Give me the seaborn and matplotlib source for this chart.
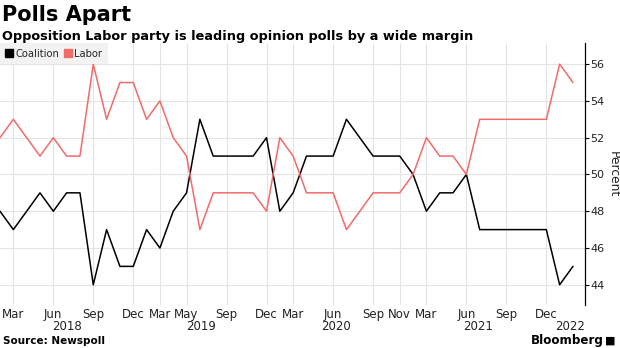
import matplotlib
matplotlib.use("Agg")
import matplotlib.pyplot as plt
from matplotlib.lines import Line2D
from matplotlib.transforms import blended_transform_factory
import seaborn as sns
import pandas as pd

# Newspoll two-party-preferred results, one entry per poll
coalition = [48, 47, 48, 49, 48, 49, 49, 44, 47, 45, 45, 47, 46, 48, 49,
             53, 51, 51, 51, 51, 52, 48, 49, 51, 51, 51, 53, 52, 51, 51,
             51, 50, 48, 49, 49, 50, 47, 47, 47, 47, 47, 47, 44, 45]
labor = [52, 53, 52, 51, 52, 51, 51, 56, 53, 55, 55, 53, 54, 52, 51,
         47, 49, 49, 49, 49, 48, 52, 51, 49, 49, 49, 47, 48, 49, 49,
         49, 50, 52, 51, 51, 50, 53, 53, 53, 53, 53, 53, 56, 55]

# Month labels shown under selected polls
tick_polls = [1, 4, 7, 10, 12, 14, 17, 20, 22, 25, 28, 30, 32, 35, 38, 41]
tick_labels = ["Mar", "Jun", "Sep", "Dec", "Mar", "May", "Sep", "Dec",
               "Mar", "Jun", "Sep", "Nov", "Mar", "Jun", "Sep", "Dec"]
year_pos = [5.0, 15.1, 25.2, 35.9, 42.8]
year_labels = ["2018", "2019", "2020", "2021", "2022"]

series = ["Coalition", "Labor"]
colors = {"Coalition": "#000000", "Labor": "#f26b6b"}

n = len(coalition)
df = pd.DataFrame({
    "poll": list(range(n)) * 2,
    "value": coalition + labor,
    "party": ["Coalition"] * n + ["Labor"] * n,
})

sns.set_style("white")
plt.rcParams["font.family"] = ["DejaVu Sans"]

fig = plt.figure(figsize=(6.2, 3.48), dpi=100)
ax = fig.add_axes([0.0, 0.1236, 0.9435, 0.7528])

sns.lineplot(data=df, x="poll", y="value", hue="party", palette=colors,
             hue_order=series, linewidth=1.1, ax=ax, legend=False)

ax.set_xlim(0, 43.9)
ax.set_ylim(42.9, 57.15)
ax.set_yticks(range(44, 57, 2))
ax.yaxis.tick_right()
ax.set_ylabel("Percent", rotation=270, fontsize=8.8, color="#222222",
              va="center", ha="center")
ax.yaxis.set_label_coords(1.048, 0.5)
ax.tick_params(axis="y", direction="out", length=3, width=0.8, color="#000000",
               labelsize=8, labelcolor="#222222", pad=1)

ax.set_xticks(tick_polls)
ax.set_xticklabels(tick_labels)
ax.tick_params(axis="x", length=0, labelsize=8.5, labelcolor="#222222", pad=2)
ax.set_xlabel("")

trans = blended_transform_factory(ax.transData, ax.transAxes)
for pos, yr in zip(year_pos, year_labels):
    ax.text(pos, -0.058, yr, transform=trans, ha="center", va="top",
            fontsize=8.5, color="#222222")

ax.grid(True, color="#e4e4e4", linewidth=0.8)
ax.set_axisbelow(True)
for side in ["left", "top", "bottom"]:
    ax.spines[side].set_visible(False)
ax.spines["right"].set_color("#000000")
ax.spines["right"].set_linewidth(0.9)

handles = [Line2D([], [], marker="s", linestyle="none", markersize=5.5,
                  color=colors[s]) for s in series]
leg = ax.legend(handles, series, loc="upper left", bbox_to_anchor=(0.0, 1.0),
                ncol=2, frameon=True, fontsize=7.2, handletextpad=0.25,
                columnspacing=0.6, borderpad=0.55, borderaxespad=0.0,
                handlelength=0.7, fancybox=False)
leg.get_frame().set_facecolor("#f2f2f2")
leg.get_frame().set_edgecolor("none")
leg.get_frame().set_alpha(1.0)

fig.text(0.003, 0.985, "Polls Apart", ha="left", va="top",
         fontsize=15, fontweight="bold", color="#000000")
fig.text(0.003, 0.915, "Opposition Labor party is leading opinion polls by a wide margin",
         ha="left", va="top", fontsize=9.3, fontweight="bold", color="#000000")
fig.text(0.005, 0.006, "Source: Newspoll", ha="left", va="bottom",
         fontsize=7.5, fontweight="bold", color="#000000")
fig.text(0.973, 0.004, "Bloomberg", ha="right", va="bottom",
         fontsize=8.6, fontweight="bold", color="#000000")
fig.text(0.993, 0.006, "\u25a0", ha="right", va="bottom", fontsize=8, color="#000000")

fig.savefig("out.png", dpi=100)
